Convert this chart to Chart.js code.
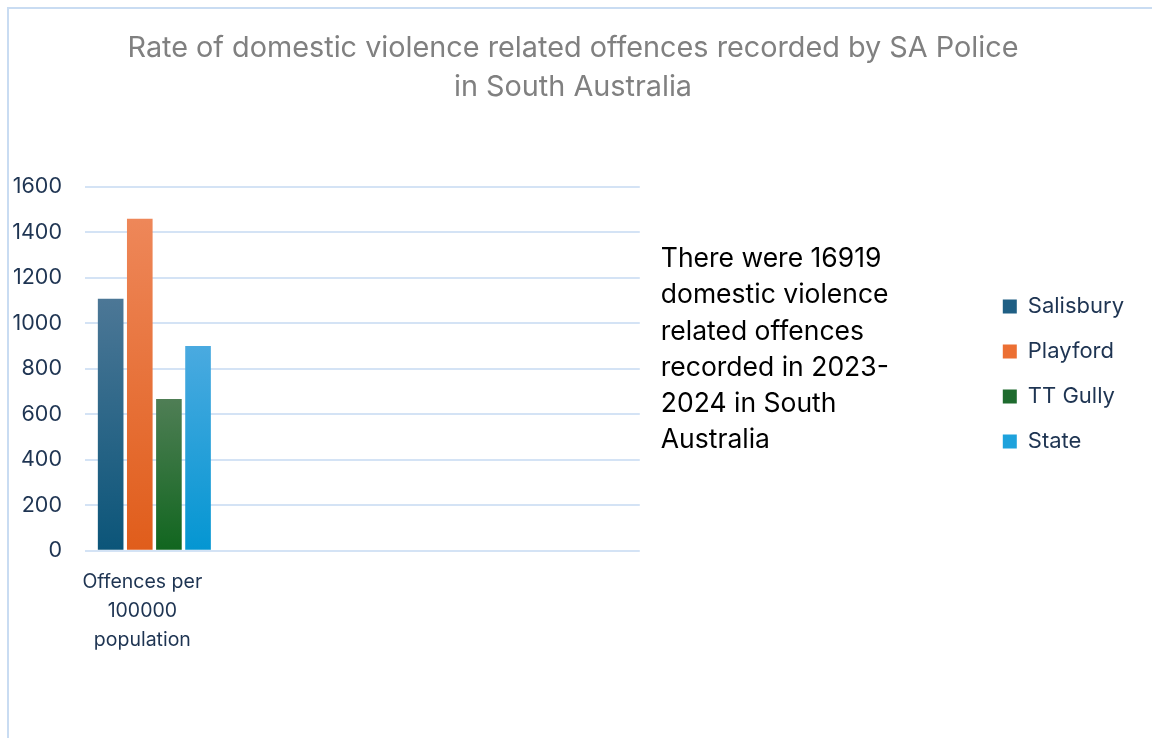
<!DOCTYPE html>
<html>
<head>
<meta charset="utf-8">
<script src="https://cdn.jsdelivr.net/npm/chart.js@4"></script>
<style>
  body { margin: 0; background: #fff; }
  #frame {
    position: absolute; left: 7px; top: 7px;
    width: 1145px; height: 731px;
    border-left: 2px solid #c9dcf2; border-top: 2px solid #c9dcf2;
  }
  canvas { display: block; }
</style>
</head>
<body>
<div id="frame"><canvas id="chart" width="1143" height="729"></canvas></div>
<script>
// data
var categories = [["Offences per", "100000", "population"], "", "", ""];
var seriesNames = ["Salisbury", "Playford", "TT Gully", "State"];
var salisbury = [1108, null, null, null];
var playford = [1460, null, null, null];
var ttGully = [668, null, null, null];
var state = [901, null, null, null];
var yTicks = [0, 200, 400, 600, 800, 1000, 1200, 1400, 1600];
var titleLines = ["Rate of domestic violence related offences recorded by SA Police", "in South Australia"];
var noteLines = ["There were 16919", "domestic violence", "related offences", "recorded in 2023-", "2024 in South", "Australia"];

var navy = "#1e3452";
var fontFamily = "Inter, 'Liberation Sans', sans-serif";

// light (top) and dark (bottom) of each bar's fill
var lightColors = ["#4c7796", "#ee8759", "#4f7e55", "#4aaae0"];
var darkColors = ["#0b5579", "#e05d1b", "#11661f", "#0496d2"];
var legendColors = ["#1f5f84", "#ec6f33", "#1e6b2e", "#1ea2dc"];

function barFill(i) {
  return function (c) {
    var chart = c.chart;
    if (!chart.chartArea || !c.parsed || c.parsed.y == null) return darkColors[i];
    var y = chart.scales.y;
    var g = chart.ctx.createLinearGradient(0, y.getPixelForValue(c.parsed.y), 0, y.getPixelForValue(0));
    g.addColorStop(0, lightColors[i]);
    g.addColorStop(1, darkColors[i]);
    return g;
  };
}

var allSeries = [salisbury, playford, ttGully, state];
var datasets = seriesNames.map(function (name, i) {
  return {
    label: name,
    data: allSeries[i],
    backgroundColor: barFill(i),
    borderWidth: 0,
    categoryPercentage: 0.84,
    barPercentage: 0.88,
    yAxisID: "y"
  };
});

// writes the note text in the space between plot and legend
var notePlugin = {
  id: "note",
  afterDraw: function (chart) {
    var ctx = chart.ctx;
    var area = chart.chartArea;
    ctx.save();
    ctx.font = "26.5px " + fontFamily;
    ctx.fillStyle = "#000";
    ctx.textBaseline = "middle";
    ctx.textAlign = "left";
    noteLines.forEach(function (line, k) {
      ctx.fillText(line, area.right + 21, area.top + 72 + k * 36.3);
    });
    ctx.restore();
  }
};

new Chart(document.getElementById("chart"), {
  type: "bar",
  data: { labels: categories, datasets: datasets },
  plugins: [notePlugin],
  options: {
    responsive: false,
    animation: false,
    layout: { padding: { left: 3, right: 18, bottom: 74, top: 0 } },
    plugins: {
      title: {
        display: true,
        text: titleLines,
        color: "#808080",
        font: { family: fontFamily, size: 28.8, weight: "normal", lineHeight: 1.354 },
        padding: { top: 19.5, bottom: 80.5 }
      },
      legend: {
        position: "right",
        fullSize: false,
        // empty title only pushes the items down a little
        title: { display: true, text: "", font: { size: 5, lineHeight: 1.2 }, padding: 2 },
        labels: {
          color: navy,
          font: { family: fontFamily, size: 22 },
          boxWidth: 14,
          boxHeight: 14,
          padding: 23,
          generateLabels: function (chart) {
            return Chart.defaults.plugins.legend.labels.generateLabels(chart).map(function (l, i) {
              l.fillStyle = legendColors[i];
              l.lineWidth = 0;
              return l;
            });
          }
        }
      },
      tooltip: { enabled: false }
    },
    scales: {
      x: {
        grid: { display: false },
        border: { display: false },
        ticks: {
          color: navy,
          font: { family: fontFamily, size: 19.5, lineHeight: 1.49 },
          padding: 9,
          labelOffset: -12,
          maxRotation: 0,
          autoSkip: false
        }
      },
      y: {
        min: 0,
        max: 1600,
        afterBuildTicks: function (scale) {
          scale.ticks = yTicks.map(function (v) { return { value: v }; });
        },
        grid: { color: "#d4e3f5", lineWidth: 2, drawTicks: false },
        border: { display: false },
        ticks: {
          color: navy,
          font: { family: fontFamily, size: 21.5 },
          padding: 23,
          callback: function (v) { return String(v); }
        },
        afterFit: function (scale) { scale.width = 73; }
      },
      // empty axis that only keeps room for the note text
      gap: {
        type: "linear",
        position: "right",
        display: true,
        grid: { display: false },
        border: { display: false },
        ticks: { display: false },
        afterFit: function (scale) { scale.width = 340; }
      }
    }
  }
});
</script>
</body>
</html>
